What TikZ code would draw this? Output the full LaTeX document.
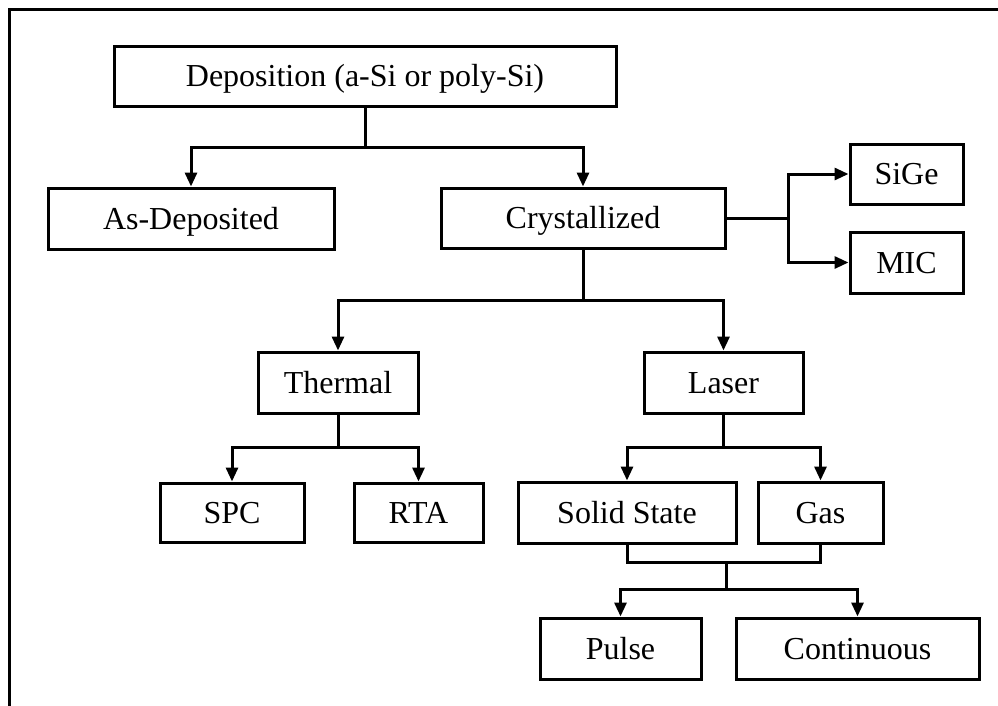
\documentclass[tikz,border=0pt]{standalone}
\usepackage{fontspec}
\setmainfont{Liberation Serif}
\usetikzlibrary{arrows.meta}
\begin{document}
\begin{tikzpicture}[x=1pt,y=-1pt,
  box/.style={draw, line width=3pt, inner sep=0pt, minimum height=60pt, text height=21pt, text depth=0pt, font=\fontsize{32}{36}\selectfont},
  conn/.style={line width=3pt},
  arr/.style={conn, -{Triangle[length=14pt,width=12pt]}}]
\useasboundingbox (0,0) rectangle (998,705);
\draw[line width=3pt] (9,710) -- (9,9) -- (1003,9);
\node[box, minimum width=502pt] (dep) at (365,76) {Deposition (a-Si or poly-Si)};
\node[box, minimum width=286pt, minimum height=61pt] (asdep) at (191,218.5) {As-Deposited};
\node[box, minimum width=284pt] (cry) at (583,218) {Crystallized};
\node[box, minimum width=113pt] (sige) at (906.5,174) {SiGe};
\node[box, minimum width=113pt, minimum height=61pt] (mic) at (906.5,262.5) {MIC};
\node[box, minimum width=160pt, minimum height=61pt] (thermal) at (338,382.5) {Thermal};
\node[box, minimum width=159pt, minimum height=61pt] (laser) at (723.5,382.5) {Laser};
\node[box, minimum width=144pt, minimum height=59pt] (spc) at (232,512.5) {SPC};
\node[box, minimum width=129pt, minimum height=59pt] (rta) at (418.5,512.5) {RTA};
\node[box, minimum width=218pt, minimum height=61pt] (solid) at (627,512.5) {Solid State};
\node[box, minimum width=125pt, minimum height=61pt] (gas) at (820.5,512.5) {Gas};
\node[box, minimum width=161pt, minimum height=61pt] (pulse) at (620.5,648.5) {Pulse};
\node[box, minimum width=243pt, minimum height=61pt] (cont) at (857.5,648.5) {Continuous};
\coordinate (j1) at (365,147);
\coordinate (j2) at (788,218);
\coordinate (j3) at (583,300);
\coordinate (j4) at (338,447);
\coordinate (j5) at (723.5,447);
\coordinate (j6) at (726,562);
\coordinate (j7) at (726,589);
\draw[conn] (dep.south) -- (j1);
\draw[arr] (j1) -| (asdep.north);
\draw[arr] (j1) -| (cry.north);
\draw[conn] (cry.east) -- (j2);
\draw[arr] (j2) |- (sige.west);
\draw[arr] (j2) |- (mic.west);
\draw[conn] (cry.south) -- (j3);
\draw[arr] (j3) -| (thermal.north);
\draw[arr] (j3) -| (laser.north);
\draw[conn] (thermal.south) -- (j4);
\draw[arr] (j4) -| (spc.north);
\draw[arr] (j4) -| (rta.north);
\draw[conn] (laser.south) -- (j5);
\draw[arr] (j5) -| (solid.north);
\draw[arr] (j5) -| (gas.north);
\draw[conn] (solid.south) |- (j6);
\draw[conn] (gas.south) |- (j6);
\draw[conn] (j6) -- (j7);
\draw[arr] (j7) -| (pulse.north);
\draw[arr] (j7) -| (cont.north);
\end{tikzpicture}
\end{document}
